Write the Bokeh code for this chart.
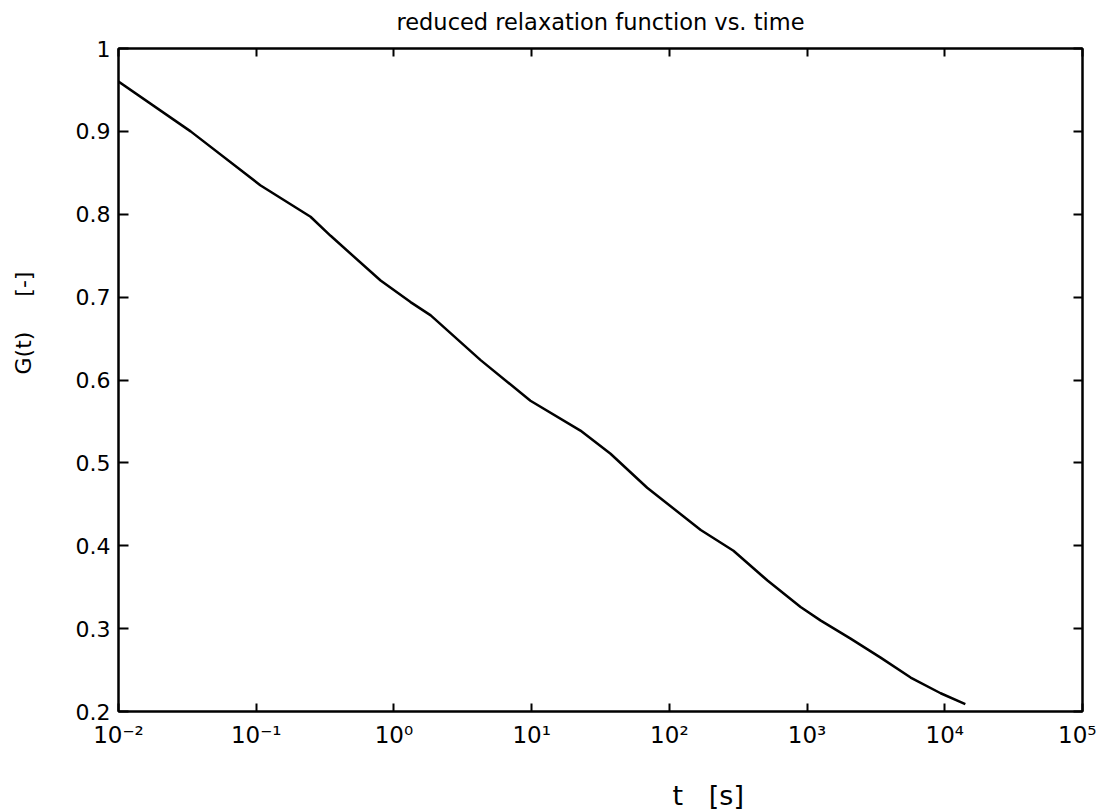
from bokeh.plotting import figure
from bokeh.models import LogAxis, LinearAxis, FixedTicker, CustomJSTickFormatter, Title, Range1d
from bokeh.embed import file_html
from bokeh.resources import INLINE

# ---- data ----
t_s = [0.01, 0.0334, 0.107, 0.248, 0.347, 0.80, 1.32, 1.85, 4.26, 9.8, 22.6, 37.4,
       69.0, 169.0, 292.0, 516.0, 897.0, 1250.0, 2070.0, 3420.0, 5650.0, 9330.0, 14100.0]
g_vals = [0.960, 0.900, 0.835, 0.797, 0.774, 0.720, 0.694, 0.678, 0.624, 0.575, 0.539, 0.511,
          0.470, 0.419, 0.394, 0.358, 0.326, 0.310, 0.288, 0.265, 0.241, 0.222, 0.209]

x_tick_values = [1e-2, 1e-1, 1e0, 1e1, 1e2, 1e3, 1e4, 1e5]
x_tick_labels = ["10\u207b\u00b2", "10\u207b\u00b9", "10\u2070", "10\u00b9", "10\u00b2", "10\u00b3", "10\u2074", "10\u2075"]
y_tick_values = [0.2, 0.3, 0.4, 0.5, 0.6, 0.7, 0.8, 0.9, 1.0]
y_tick_labels = ["0.2", "0.3", "0.4", "0.5", "0.6", "0.7", "0.8", "0.9", "1"]

title_text = "reduced relaxation function vs. time"
x_label_text = "t\u00a0\u00a0\u00a0[s]"
y_label_text = "G(t)\u00a0\u00a0\u00a0\u00a0\u00a0[-]"

FONT = "DejaVu Sans"

p = figure(width=1096, height=812, x_axis_type="log",
           x_range=Range1d(1e-2, 1e5), y_range=Range1d(0.2, 1.0),
           output_backend="svg", toolbar_location=None,
           min_border_left=118, min_border_right=14, min_border_top=48, min_border_bottom=101,
           background_fill_color="white", border_fill_color="white")
p.grid.visible = False
p.outline_line_color = "black"
p.outline_line_width = 2

xfmt = CustomJSTickFormatter(args=dict(vals=x_tick_values, labs=x_tick_labels), code="""
let best = 0, bd = Infinity;
for (let i = 0; i < vals.length; i++) {
  const d = Math.abs(Math.log10(tick) - Math.log10(vals[i]));
  if (d < bd) { bd = d; best = i; }
}
return labs[best];
""")
yfmt = CustomJSTickFormatter(args=dict(vals=y_tick_values, labs=y_tick_labels), code="""
let best = 0, bd = Infinity;
for (let i = 0; i < vals.length; i++) {
  const d = Math.abs(tick - vals[i]);
  if (d < bd) { bd = d; best = i; }
}
return labs[best];
""")
blank = CustomJSTickFormatter(code="return '';")

def style(ax, tick_in):
    ax.axis_line_color = "black"
    ax.axis_line_width = 2
    ax.major_tick_in = tick_in
    ax.major_tick_out = 0
    ax.major_tick_line_width = 2
    ax.major_tick_line_color = "black"
    ax.minor_tick_in = 0
    ax.minor_tick_out = 0
    ax.major_label_text_font = FONT
    ax.major_label_text_color = "black"

def spacer(ax, gap):
    # invisible axis used only to reserve room in a side panel
    ax.axis_line_color = None
    ax.major_tick_line_color = None
    ax.minor_tick_line_color = None
    ax.major_tick_in = 0
    ax.major_tick_out = 0
    ax.minor_tick_in = 0
    ax.minor_tick_out = 0
    ax.major_label_text_font_size = "1px"
    ax.major_label_standoff = 0
    ax.axis_label = "\u00a0"
    ax.axis_label_text_font = FONT
    ax.axis_label_text_font_size = "20px"
    ax.axis_label_standoff = gap

# bottom axis with tick labels
xb = p.xaxis[0]
xb.ticker = FixedTicker(ticks=x_tick_values)
xb.formatter = xfmt
style(xb, 8)
xb.major_label_text_font_size = "23px"
xb.major_label_standoff = 10

# left axis with tick labels
yl = p.yaxis[0]
yl.ticker = FixedTicker(ticks=y_tick_values)
yl.formatter = yfmt
style(yl, 10)
yl.major_label_text_font_size = "22px"
yl.major_label_standoff = 8

# top axis: inward ticks, title as its label
xt = LogAxis(ticker=FixedTicker(ticks=x_tick_values), formatter=blank)
style(xt, 8)
xt.major_label_text_font_size = "1px"
xt.major_label_standoff = 0
xt.axis_label = title_text
xt.axis_label_text_font = FONT
xt.axis_label_text_font_size = "22.5px"
xt.axis_label_text_font_style = "normal"
xt.axis_label_text_color = "black"
xt.axis_label_standoff = 14
p.add_layout(xt, "above")

# right axis: inward ticks only
yr = LinearAxis(ticker=FixedTicker(ticks=y_tick_values), formatter=blank)
style(yr, 9)
yr.major_label_text_font_size = "1px"
yr.major_label_standoff = 0
p.add_layout(yr, "right")

p.line(t_s, g_vals, line_color="black", line_width=2.5)

# spacing so the axis titles sit where the reference has them
xs = LogAxis(ticker=FixedTicker(ticks=x_tick_values), formatter=blank)
spacer(xs, 0)
p.add_layout(xs, "below")
p.add_layout(Title(text=x_label_text, align="left", offset=554, text_font=FONT,
                   text_font_size="27px", text_font_style="normal", text_color="black",
                   standoff=0), "below")

ys = LinearAxis(ticker=FixedTicker(ticks=y_tick_values), formatter=blank)
spacer(ys, 8)
p.add_layout(ys, "left")
p.add_layout(Title(text=y_label_text, align="left", offset=337, text_font=FONT,
                   text_font_size="22px", text_font_style="normal", text_color="black",
                   standoff=4), "left")

open("out.html", "w").write(file_html(p, INLINE))
